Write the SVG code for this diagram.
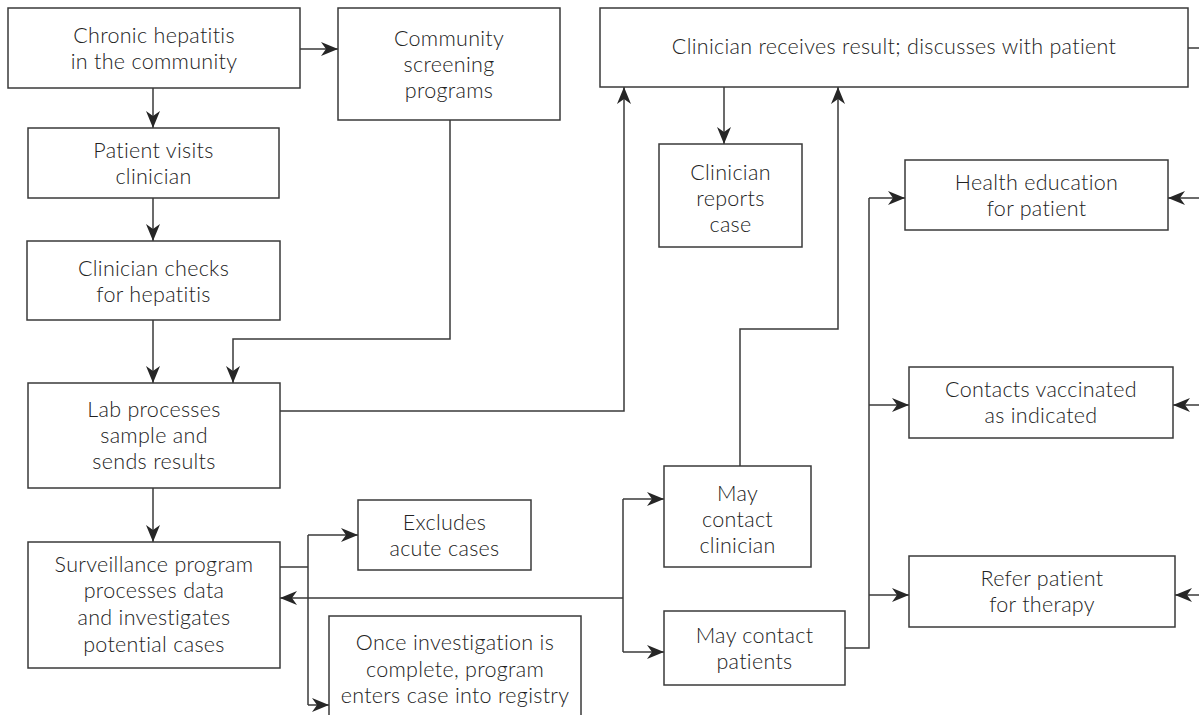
<svg xmlns="http://www.w3.org/2000/svg" width="1199" height="715" viewBox="0 0 1199 715">
<defs>
<marker id="ah" markerUnits="userSpaceOnUse" markerWidth="18" markerHeight="15" refX="17" refY="7.5" orient="auto">
<path d="M0,0.5 L17,7.5 L0,14.5 L5,7.5 Z" fill="#262626"/>
</marker>
<style>
rect{fill:#fff;stroke:#3a3a3a;stroke-width:1.5}
text{font-family:Lato,"Open Sans","Liberation Sans",sans-serif;font-size:21.5px;fill:#222;text-anchor:middle;font-weight:300;letter-spacing:0.3px;font-variant-ligatures:none}
#connectors path{fill:none;stroke:#3a3a3a;stroke-width:1.5}
.a{marker-end:url(#ah)}
</style>
</defs>
<rect x="0" y="0" width="1199" height="715" style="fill:#fff;stroke:none"/>
<g id="connectors">
<path class="a" d="M300,49 H338"/>
<path class="a" d="M153,88 V128"/>
<path class="a" d="M153,198 V241"/>
<path class="a" d="M153,320 V383"/>
<path class="a" d="M450,120 V339 H233 V383"/>
<path class="a" d="M280,411 H624 V87"/>
<path class="a" d="M153,488 V542"/>
<path class="a" d="M724,87 V144"/>
<path d="M280,567 H308"/>
<path d="M308,535 V705"/>
<path class="a" d="M308,535 H358"/>
<path class="a" d="M308,705 H329"/>
<path class="a" d="M623,598 H280"/>
<path d="M623,499 V652"/>
<path class="a" d="M623,499 H664"/>
<path class="a" d="M623,652 H664"/>
<path class="a" d="M740,466 V329 H838 V87"/>
<path d="M845,648 H869 V198"/>
<path class="a" d="M869,198 H905"/>
<path class="a" d="M869,405 H909"/>
<path class="a" d="M869,595 H909"/>
<path d="M1188,48 H1199"/>
<path class="a" d="M1199,198 H1168"/>
<path class="a" d="M1199,405 H1173"/>
<path class="a" d="M1199,595 H1175"/>
</g>
<g id="n-chronic"><rect x="8" y="8" width="292" height="80"/><text x="154" y="43">Chronic hepatitis</text><text x="154" y="69">in the community</text></g>
<g id="n-community"><rect x="338" y="8" width="222" height="112"/><text x="449" y="46">Community</text><text x="449" y="72">screening</text><text x="449" y="98">programs</text></g>
<g id="n-patient"><rect x="28" y="128" width="251" height="70"/><text x="153.5" y="158">Patient visits</text><text x="153.5" y="184">clinician</text></g>
<g id="n-checks"><rect x="27" y="241" width="253" height="79"/><text x="153.5" y="276">Clinician checks</text><text x="153.5" y="302">for hepatitis</text></g>
<g id="n-lab"><rect x="28" y="383" width="252" height="105"/><text x="154" y="417">Lab processes</text><text x="154" y="443">sample and</text><text x="154" y="469">sends results</text></g>
<g id="n-surveillance"><rect x="28" y="542" width="252" height="126"/><text x="154" y="572">Surveillance program</text><text x="154" y="598">processes data</text><text x="154" y="625">and investigates</text><text x="154" y="652">potential cases</text></g>
<g id="n-excludes"><rect x="358" y="500" width="173" height="70"/><text x="444.5" y="530">Excludes</text><text x="444.5" y="556">acute cases</text></g>
<g id="n-once"><rect x="329" y="616" width="252" height="120"/><text x="455" y="650">Once investigation is</text><text x="455" y="677">complete, program</text><text x="455" y="703">enters case into registry</text></g>
<g id="n-receives"><rect x="600" y="8" width="588" height="79"/><text x="894" y="54">Clinician receives result; discusses with patient</text></g>
<g id="n-reports"><rect x="659" y="144" width="143" height="103"/><text x="730.5" y="180">Clinician</text><text x="730.5" y="206">reports</text><text x="730.5" y="232">case</text></g>
<g id="n-health"><rect x="905" y="160" width="263" height="70"/><text x="1036.5" y="190">Health education</text><text x="1036.5" y="216">for patient</text></g>
<g id="n-contacts"><rect x="909" y="367" width="264" height="71"/><text x="1041" y="397">Contacts vaccinated</text><text x="1041" y="423">as indicated</text></g>
<g id="n-refer"><rect x="909" y="556" width="266" height="71"/><text x="1042" y="586">Refer patient</text><text x="1042" y="612">for therapy</text></g>
<g id="n-mayclinician"><rect x="664" y="466" width="147" height="101"/><text x="737.5" y="501">May</text><text x="737.5" y="527">contact</text><text x="737.5" y="553">clinician</text></g>
<g id="n-maypatients"><rect x="664" y="611" width="181" height="74"/><text x="754.5" y="643">May contact</text><text x="754.5" y="669">patients</text></g>
</svg>
